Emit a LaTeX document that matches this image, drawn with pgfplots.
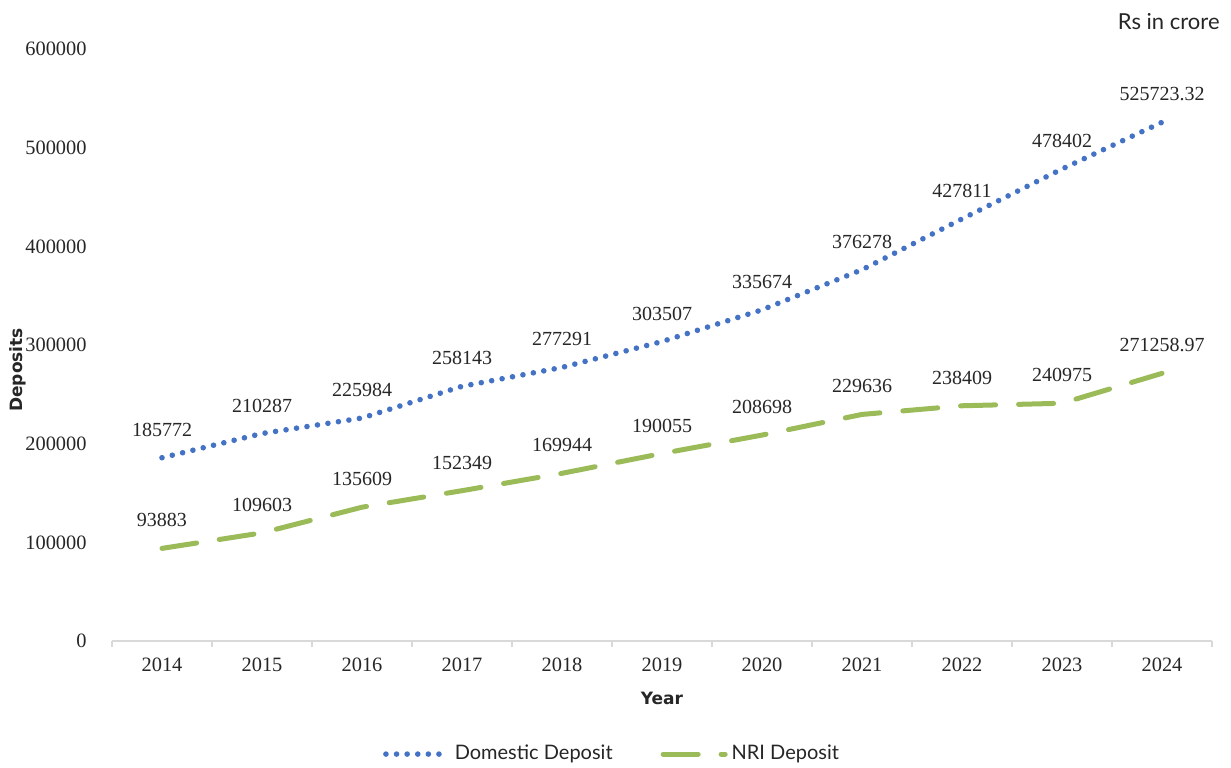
\documentclass[border=0pt]{standalone}
\usepackage{pgfplots}
\pgfplotsset{compat=1.18}
\usepackage{fontspec}
\setmainfont{Liberation Serif}
\newfontfamily\legfont{Lato}
\newfontfamily\labfont{DejaVu Sans}
\definecolor{dblue}{RGB}{68,114,196}
\definecolor{ngreen}{RGB}{155,187,89}
\definecolor{axgray}{RGB}{217,217,217}
\definecolor{txt}{RGB}{38,38,38}
\begin{document}
\begin{tikzpicture}
\useasboundingbox (-56pt,-63pt) rectangle (559.5pt,320.5pt);
\begin{axis}[
  scale only axis, width=550pt, height=296pt,
  xmin=-0.5, xmax=10.5, ymin=0, ymax=600000,
  axis lines*=left,
  x axis line style={draw=axgray, line width=0.75pt},
  y axis line style={draw=none},
  tick align=outside, major tick length=3pt,
  xtick={-0.5,0.5,...,10.5}, xticklabels={},
  xtick style={draw=axgray, line width=0.75pt},
  extra x ticks={0,1,2,3,4,5,6,7,8,9,10},
  extra x tick labels={2014,2015,2016,2017,2018,2019,2020,2021,2022,2023,2024},
  extra x tick style={major tick length=0pt, xtick style={draw=none},
     xticklabel style={anchor=center, yshift=-12pt}},
  ytick={0,100000,...,600000},
  ytick style={draw=none},
  scaled y ticks=false,
  /pgf/number format/assume math mode=true,
  yticklabel style={anchor=east, inner sep=0pt, xshift=-9.5pt, text=txt,
     font=\fontsize{10.2}{12}\selectfont, /pgf/number format/fixed, /pgf/number format/1000 sep={}},
  xticklabel style={text=txt, font=\fontsize{10.2}{12}\selectfont},
  xlabel={Year},
  xlabel style={at={(axis description cs:0.5,-0.0963)}, anchor=center,
     font=\labfont\bfseries\fontsize{8.5}{10}\selectfont, text=txt},
  ylabel={Deposits},
  ylabel style={at={(axis description cs:-0.0855,0.458)}, anchor=center,
     font=\labfont\bfseries\fontsize{8.5}{10}\selectfont, text=txt},
  nodes near coords,
  point meta=explicit symbolic,
  every node near coord/.style={anchor=center, yshift=14pt, text=txt,
     font=\fontsize{10}{11}\selectfont},
  legend columns=2,
  legend style={draw=none, at={(axis description cs:0.4555,-0.191)}, anchor=center,
     font=\legfont\fontsize{10}{12}\selectfont, text=txt,
     /tikz/every even column/.append style={column sep=22pt}},
  legend image code/.code={\draw[#1] (0pt,0pt) -- (31pt,0pt);},
]
\addplot[dblue, line width=2.8pt, dash pattern=on 0pt off 5.3pt, line cap=round]
 coordinates {
 (0,185772)[185772] (1,210287)[210287] (2,225984)[225984] (3,258143)[258143]
 (4,277291)[277291] (5,303507)[303507] (6,335674)[335674] (7,376278)[376278]
 (8,427811)[427811] (9,478402)[478402] (10,525723.32)[525723.32]
 };
\addlegendentry{Domestic Deposit}
\addplot[ngreen, line width=2.5pt, dash pattern=on 17.5pt off 11.5pt, line cap=round]
 coordinates {
 (0,93883)[93883] (1,109603)[109603] (2,135609)[135609] (3,152349)[152349]
 (4,169944)[169944] (5,190055)[190055] (6,208698)[208698] (7,229636)[229636]
 (8,238409)[238409] (9,240975)[240975] (10,271258.97)[271258.97]
 };
\addlegendentry{NRI Deposit}
\end{axis}
\node[anchor=east, inner sep=0pt, text=txt, font=\legfont\fontsize{11}{13}\selectfont] at (554pt,309.5pt) {Rs in crore};
\end{tikzpicture}
\end{document}
